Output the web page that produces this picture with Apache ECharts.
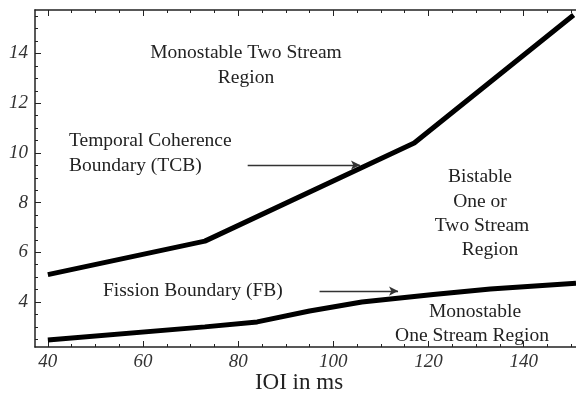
<!DOCTYPE html>
<html>
<head>
<meta http-equiv="Content-Type" content="text/html;charset=utf-8" />
<title>stream boundaries</title>
<script src="https://cdn.jsdelivr.net/npm/echarts@6/dist/echarts.min.js"></script>
<style>
  html, body { margin: 0; padding: 0; background: #fff; }
  #container { width: 576px; height: 400px; }
</style>
</head>
<body>
<div id="container"></div>
<script type="text/javascript">
// IOI (ms) vs boundary values
var tcbData = [[40, 5.1], [73, 6.45], [117, 10.4], [150.5, 15.55]];
var fbData = [[40, 2.47], [73, 3.0], [84, 3.2], [95, 3.64], [106, 4.0], [121, 4.3], [133, 4.52], [151, 4.76]];

var xLabels = [40, 60, 80, 100, 120, 140];
var xMajor = [40, 60, 80, 100, 120, 140];
var xMinor = [45, 50, 55, 65, 70, 75, 85, 90, 95, 105, 110, 115, 125, 130, 135, 145, 150];
var yLabels = [4, 6, 8, 10, 12, 14];
var yMajor = [4, 6, 8, 10, 12, 14];
var yMinor = [2.5, 3, 3.5, 4.5, 5, 5.5, 6.5, 7, 7.5, 8.5, 9, 9.5, 10.5, 11, 11.5,
              12.5, 13, 13.5, 14.5, 15, 15.5];

// annotation arrows, in data coordinates
var tcbArrow = [[82, 9.51], [105.6, 9.51]];
var fbArrow = [[97.1, 4.44], [113.6, 4.44]];

var serif = '"Liberation Serif", "DejaVu Serif", serif';
var axisColor = '#222';

var myChart = echarts.init(document.getElementById('container'));

function xAx(pos, vals, len, withLabels, showLine) {
    return {
        type: 'value', position: pos, min: 37.3, max: 151,
        axisLine: { show: showLine, lineStyle: { color: axisColor, width: 1.5 } },
        axisTick: { show: true, inside: true, length: len, customValues: vals,
                    lineStyle: { color: axisColor, width: 1 } },
        axisLabel: withLabels ? {
            show: true, customValues: xLabels, margin: 5,
            fontFamily: serif, fontStyle: 'italic', fontSize: 19, color: '#333'
        } : { show: false },
        splitLine: { show: false }
    };
}

function yAx(vals, len, withLabels, showLine) {
    return {
        type: 'value', position: 'left', min: 2.19, max: 15.75,
        axisLine: { show: showLine, lineStyle: { color: axisColor, width: 1.5 } },
        axisTick: { show: true, inside: true, length: len, customValues: vals,
                    lineStyle: { color: axisColor, width: 1 } },
        axisLabel: withLabels ? {
            show: true, customValues: yLabels, margin: 7,
            fontFamily: serif, fontStyle: 'italic', fontSize: 19, color: '#333'
        } : { show: false },
        splitLine: { show: false }
    };
}

function txt(x, y, s, align) {
    return {
        type: 'text', x: x, y: y, z: 10,
        style: {
            text: s, font: '19.5px ' + serif, fill: '#222',
            textAlign: align || 'center', textVerticalAlign: 'middle'
        }
    };
}

var arrowLine = function (pts) {
    return {
        silent: true,
        symbol: ['none', 'arrow'],
        symbolSize: [7, 9],
        label: { show: false },
        lineStyle: { color: '#333', width: 1.3, type: 'solid' },
        data: [[{ coord: pts[0] }, { coord: pts[1] }]]
    };
};

var option = {
    backgroundColor: '#fff',
    animation: false,
    grid: { left: 35, right: 0, top: 10, bottom: 53 },
    xAxis: [
        xAx('bottom', xMajor, 6, true, true),
        xAx('bottom', xMinor, 3, false, false),
        xAx('top', xMajor, 6, false, true),
        xAx('top', xMinor, 3, false, false)
    ],
    yAxis: [
        yAx(yMajor, 6, true, true),
        yAx(yMinor, 3, false, false)
    ],
    series: [
        {
            name: 'TCB', type: 'line', data: tcbData, showSymbol: false,
            lineStyle: { color: '#000', width: 5, cap: 'butt' },
            markLine: arrowLine(tcbArrow)
        },
        {
            name: 'FB', type: 'line', data: fbData, showSymbol: false,
            lineStyle: { color: '#000', width: 5, cap: 'butt' },
            markLine: arrowLine(fbArrow)
        }
    ],
    graphic: [
        txt(246, 53, 'Monostable Two Stream'),
        txt(246, 78, 'Region'),
        txt(69, 141, 'Temporal Coherence', 'left'),
        txt(69, 166, 'Boundary (TCB)', 'left'),
        txt(480, 177, 'Bistable'),
        txt(480, 202, 'One or'),
        txt(482, 226, 'Two Stream'),
        txt(490, 250, 'Region'),
        txt(103, 291, 'Fission Boundary (FB)', 'left'),
        txt(475, 312, 'Monostable'),
        txt(472, 336, 'One Stream Region'),
        {
            type: 'text', x: 299, y: 383, z: 10,
            style: { text: 'IOI in ms', font: '23px ' + serif, fill: '#222',
                     textAlign: 'center', textVerticalAlign: 'middle' }
        }
    ]
};

myChart.setOption(option, true);
</script>
</body>
</html>
